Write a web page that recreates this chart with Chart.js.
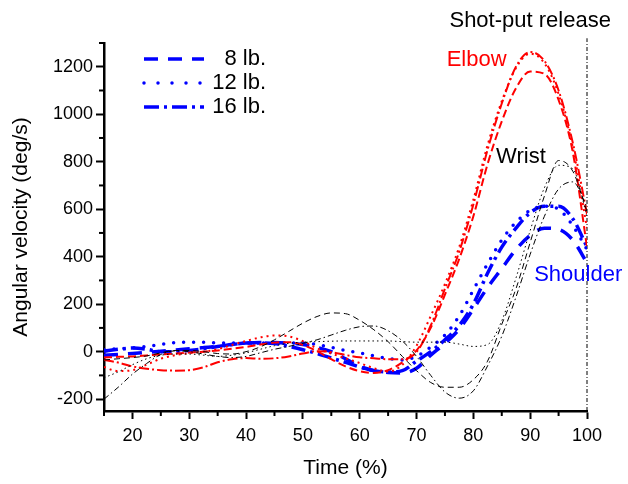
<!DOCTYPE html>
<html>
<head>
<meta charset="utf-8">
<script src="https://cdn.jsdelivr.net/npm/chart.js@4.4.1/dist/chart.umd.min.js"></script>
<style>
  body { margin: 0; background: #fff; }
</style>
</head>
<body>
<canvas id="chart" width="628" height="484"></canvas>
<script>
// time axis (% of throw), shared by all curves
const time = [15, 17.5, 20, 22.5, 25, 27.5, 30, 32.5, 35, 37.5, 40, 42.5, 45, 47.5, 50, 52.5, 55, 57.5, 60, 62.5, 65, 67.5, 70, 72.5, 75, 77.5, 80, 82.5, 85, 87.5, 90, 92.5, 95, 97.5, 100];

// elbow (red)
const elbow8 = [-25, -22, -20, -16, -12, -8, -4, 0, 5, 12, 20, 30, 38, 40, 28, 2, -32, -62, -82, -90, -78, -45, 5, 100, 240, 390, 570, 790, 970, 1110, 1180, 1170, 1060, 840, 440];
const elbow12 = [-65, -82, -78, -55, -30, -15, -6, 0, 10, 28, 45, 60, 68, 64, 44, 14, -8, -28, -48, -70, -84, -55, 25, 150, 285, 440, 640, 870, 1055, 1195, 1255, 1215, 1085, 860, 520];
const elbow16 = [-35, -46, -62, -72, -78, -80, -78, -66, -45, -32, -27, -30, -28, -20, -8, 2, -2, -14, -24, -28, -32, -32, -2, 110, 265, 420, 620, 850, 1045, 1200, 1262, 1225, 1100, 880, 580];

// shoulder (blue)
const shoulder8 = [-15, -12, -8, -3, 2, 7, 12, 17, 22, 30, 36, 38, 38, 36, 30, 18, 0, -30, -62, -80, -88, -90, -70, -15, 35, 95, 180, 270, 350, 430, 490, 520, 515, 470, 374];
const shoulder12 = [8, 12, 16, 22, 30, 38, 40, 40, 37, 36, 36, 36, 36, 36, 36, 30, 18, 5, -5, -18, -28, -35, -20, 20, 70, 150, 260, 370, 470, 545, 595, 612, 600, 530, 430];
const shoulder16 = [2, 10, 15, 10, 0, 0, 5, 12, 22, 30, 36, 36, 34, 22, 8, -8, -27, -45, -65, -80, -86, -80, -40, 0, 50, 110, 200, 330, 440, 520, 585, 612, 612, 560, 441];

// wrist (black)
const wrist8 = [-35, -30, -25, -18, -5, 5, 5, 0, -8, -10, 0, 20, 50, 85, 120, 148, 163, 160, 132, 92, 42, -20, -80, -130, -150, -150, -118, -40, 115, 265, 460, 655, 805, 760, 590];
const wrist12 = [-110, -85, -55, -30, -15, -10, -10, -15, -20, -15, -5, 10, 25, 35, 40, 42, 44, 45, 45, 45, 45, 42, 40, 40, 40, 32, 22, 30, 130, 310, 510, 690, 785, 770, 570];
const wrist16 = [-200, -150, -95, -50, -12, 3, 0, -10, -20, -25, -20, -5, 10, 22, 35, 50, 70, 90, 105, 108, 88, 45, -20, -100, -170, -196, -165, -60, 65, 230, 410, 570, 685, 715, 610];

// release line and axis ticks
const releaseTime = 100;
const xTicks = [20, 30, 40, 50, 60, 70, 80, 90, 100];
const xMinor = [15, 25, 35, 45, 55, 65, 75, 85, 95];
const yTicks = [-200, 0, 200, 400, 600, 800, 1000, 1200];
const yMinor = [-100, 100, 300, 500, 700, 900, 1100, 1300];

const FONT = "'Liberation Sans', Arial, sans-serif";

// line styles per shot weight
const styles = {
    red:   { color: "#ff0000", width: 2,   dash8: [8, 4],   dash12: [2, 4],   dash16: [10, 3, 2, 3] },
    blue:  { color: "#0000ff", width: 3.5, dash8: [14, 10], dash12: [0, 10],  dash16: [14, 5, 3, 5] },
    black: { color: "#000000", width: 1,   dash8: [6, 4],   dash12: [1.5, 3], dash16: [6, 3, 1.5, 3] }
};

function toPoints(values) {
    return values.map((v, i) => ({ x: time[i], y: v }));
}

function makeSet(label, values, st, dash) {
    return {
        label: label,
        data: toPoints(values),
        borderColor: st.color,
        borderWidth: st.width,
        borderDash: dash,
        borderCapStyle: dash[0] === 0 ? "round" : "butt",
        pointRadius: 0,
        fill: false,
        cubicInterpolationMode: "monotone"
    };
}

let datasets = [
    makeSet("Wrist 8 lb.", wrist8, styles.black, styles.black.dash8),
    makeSet("Wrist 12 lb.", wrist12, styles.black, styles.black.dash12),
    makeSet("Wrist 16 lb.", wrist16, styles.black, styles.black.dash16),
    makeSet("Elbow 8 lb.", elbow8, styles.red, styles.red.dash8),
    makeSet("Elbow 12 lb.", elbow12, styles.red, styles.red.dash12),
    makeSet("Elbow 16 lb.", elbow16, styles.red, styles.red.dash16),
    makeSet("Shoulder 8 lb.", shoulder8, styles.blue, styles.blue.dash8),
    makeSet("Shoulder 12 lb.", shoulder12, styles.blue, styles.blue.dash12),
    makeSet("Shoulder 16 lb.", shoulder16, styles.blue, styles.blue.dash16),
    {
        label: "release",
        data: [{ x: releaseTime, y: -250 }, { x: releaseTime, y: 1320 }],
        borderColor: "#000",
        borderWidth: 1,
        borderDash: [4, 2, 1, 2],
        pointRadius: 0,
        clip: false
    }
];

// text labels (position in data units)
const notes = [
    { text: "Shot-put release", x: 90, y: 1395, color: "#000", align: "center" },
    { text: "Elbow", x: 75.3, y: 1230, color: "#ff0000", align: "left" },
    { text: "Wrist", x: 84, y: 821, color: "#000", align: "left" },
    { text: "Shoulder", x: 90.7, y: 323, color: "#0000ff", align: "left" }
];

const legendRows = [
    { text: "8 lb.", dash: [14, 10] },
    { text: "12 lb.", dash: [0, 14] },
    { text: "16 lb.", dash: [15, 5, 3, 5] }
];

const extras = {
    id: "extras",
    afterDraw(chart) {
        const ctx = chart.ctx;
        const xs = chart.scales.x;
        const ys = chart.scales.y;
        const area = chart.chartArea;
        ctx.save();
        // minor ticks
        ctx.strokeStyle = "#000";
        ctx.lineWidth = 2;
        yMinor.forEach(v => {
            let p = ys.getPixelForValue(v);
            ctx.beginPath();
            ctx.moveTo(area.left - 5, p);
            ctx.lineTo(area.left, p);
            ctx.stroke();
        });
        xMinor.forEach(v => {
            let p = xs.getPixelForValue(v);
            ctx.beginPath();
            ctx.moveTo(p, area.bottom);
            ctx.lineTo(p, area.bottom + 5);
            ctx.stroke();
        });
        // annotations
        ctx.font = "22px " + FONT;
        ctx.textBaseline = "middle";
        notes.forEach(n => {
            ctx.fillStyle = n.color;
            ctx.textAlign = n.align;
            ctx.fillText(n.text, xs.getPixelForValue(n.x), ys.getPixelForValue(n.y));
        });
        // legend
        legendRows.forEach((r, i) => {
            let y = area.top + 16 + i * 24;
            ctx.strokeStyle = "#0000ff";
            ctx.lineWidth = 3.5;
            ctx.lineCap = r.dash[0] === 0 ? "round" : "butt";
            ctx.setLineDash(r.dash);
            ctx.beginPath();
            ctx.moveTo(area.left + 40, y);
            ctx.lineTo(area.left + 100, y);
            ctx.stroke();
            ctx.setLineDash([]);
            ctx.fillStyle = "#000";
            ctx.textAlign = "right";
            ctx.fillText(r.text, area.left + 162, y);
        });
        ctx.restore();
    }
};

new Chart("chart", {
    type: "line",
    data: { datasets: datasets },
    plugins: [extras],
    options: {
        responsive: false,
        devicePixelRatio: 1,
        animation: false,
        layout: { padding: { top: 43, right: 41, left: 0, bottom: 0 } },
        plugins: { legend: { display: false }, tooltip: { enabled: false } },
        scales: {
            x: {
                type: "linear",
                min: 15,
                max: 100,
                afterFit: s => { s.height = 73; },
                afterBuildTicks: s => { s.ticks = xTicks.map(v => ({ value: v })); },
                grid: { drawOnChartArea: false, tickLength: 8, tickWidth: 2, tickColor: "#000" },
                border: { color: "#000", width: 2.5 },
                ticks: { color: "#000", font: { family: FONT, size: 18 }, padding: 6, maxRotation: 0, callback: v => String(v) },
                title: { display: true, text: "Time (%)", color: "#000", font: { family: FONT, size: 21 }, padding: { top: 0, bottom: 3 } }
            },
            y: {
                type: "linear",
                min: -250,
                max: 1300,
                afterFit: s => { s.width = 104; },
                afterBuildTicks: s => { s.ticks = yTicks.map(v => ({ value: v })); },
                grid: { drawOnChartArea: false, tickLength: 8, tickWidth: 2, tickColor: "#000" },
                border: { color: "#000", width: 2.5 },
                ticks: { color: "#000", font: { family: FONT, size: 18 }, padding: 3, callback: v => String(v) },
                title: { display: true, text: "Angular velocity (deg/s)", color: "#000", font: { family: FONT, size: 21 }, padding: { top: 9, bottom: 0 } }
            }
        }
    }
});
</script>
</body>
</html>
